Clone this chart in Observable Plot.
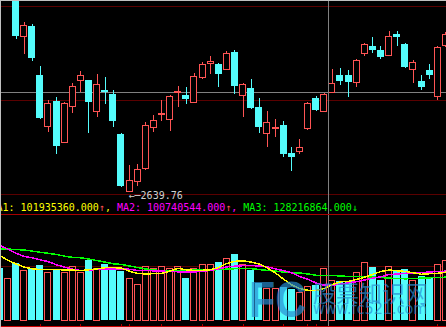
<!DOCTYPE html>
<html>
<head>
<meta charset="utf-8">
<script src="https://cdn.jsdelivr.net/npm/d3@7"></script>
<script src="https://cdn.jsdelivr.net/npm/@observablehq/plot@0.6"></script>
<style>
html, body { margin:0; padding:0; background:#000; }
#chart { position:relative; width:446px; height:327px; background:#000; overflow:hidden; }
#chart svg { position:absolute; left:0; background:transparent; }
#edge { position:absolute; left:0; top:0; width:446px; height:327px; border-top:1px solid #c0c0c0; border-left:1px solid #c0c0c0; box-sizing:border-box; pointer-events:none; }
.wm { position:absolute; color:rgba(40,140,210,0.7); white-space:nowrap; pointer-events:none; line-height:1; transform-origin:0 0; }
</style>
</head>
<body>
<div id="chart"></div>
<script>
// ---- data (one entry per trading day, left to right) ----
const opens  = [3120,3060,3040,2952,2972,2874,2772,2822,2740,2812,2864,2864,2802,2844,2836,2756,2641.5,2662,2688,2770,2796,2786,2840,2834,2820,2870,2898,2896,2886,2920,2834,2848,2810,2758,2768,2774,2718,2722,2768,2828,2802,2840,2874,2874,2860,2918,2932,2924,2914,2956,2936,2886,2862,2884,2832,2934];
const highs  = [3130,3096,3048,2980,2976,2892,2824,2830,2820,2858,2882,2864,2876,2870,2844,2758,2694,2696,2780,2794,2824,2834,2852,2850,2878,2900,2912,2898,2922,2924,2858,2866,2828,2802,2786,2782,2730,2746,2820,2832,2838,2886,2888,2884,2906,2938,2950,2932,2962,2962,2938,2904,2874,2896,2932,2960];
const lows   = [3070,3052,2946,2916,2902,2786,2760,2716,2740,2798,2840,2758,2790,2816,2770,2650,2639.76,2652,2684,2760,2782,2762,2810,2816,2818,2866,2876,2850,2884,2836,2790,2806,2758,2730,2750,2710,2682,2716,2764,2802,2800,2838,2854,2830,2850,2912,2918,2906,2912,2932,2888,2858,2844,2866,2824,2930];
const closes = [3080,3090,2952,2974,2908,2788,2818,2732,2818,2852,2874,2820,2856,2840,2782,2652,2664,2686,2774,2784,2798,2832,2842,2826,2872,2896,2902,2876,2918,2852,2856,2808,2770,2780,2770,2716,2710,2730,2818,2804,2836,2858,2862,2860,2904,2936,2924,2910,2952,2950,2890,2900,2850,2874,2930,2956];
const volumes = [148.2e6,118.8e6,162.5e6,142.5e6,148.2e6,156.8e6,136.8e6,145.4e6,134.0e6,153.9e6,136.8e6,171.0e6,148.2e6,159.6e6,145.4e6,139.7e6,119.7e6,102.6e6,151.1e6,148.2e6,151.1e6,148.2e6,151.1e6,119.7e6,145.4e6,159.6e6,159.6e6,165.3e6,176.7e6,188.1e6,159.6e6,142.5e6,105.5e6,88.4e6,88.4e6,94.0e6,88.4e6,77.0e6,96.9e6,99.8e6,148.2e6,114.0e6,111.2e6,111.2e6,136.8e6,162.5e6,151.1e6,114.0e6,153.9e6,142.5e6,145.4e6,114.0e6,125.4e6,119.7e6,156.8e6,168.2e6];
const ma1 = [185.3e6,171.6e6,161.0e6,152.5e6,147.3e6,145.1e6,145.6e6,145.1e6,144.2e6,143.4e6,142.5e6,144.5e6,147.1e6,150.5e6,151.1e6,149.1e6,140.5e6,134.0e6,132.8e6,133.4e6,134.5e6,141.1e6,148.8e6,144.5e6,142.5e6,143.1e6,144.8e6,151.1e6,162.5e6,168.7e6,170.4e6,166.2e6,161.0e6,149.6e6,135.4e6,117.7e6,101.2e6,91.2e6,86.1e6,86.1e6,91.2e6,101935360,110.3e6,111.7e6,117.1e6,123.7e6,131.7e6,139.7e6,143.9e6,141.6e6,139.7e6,135.9e6,131.7e6,133.4e6,134.5e6,137.7e6];
const ma2 = [213.8e6,203.2e6,191.8e6,182.4e6,178.7e6,173.0e6,167.6e6,158.7e6,151.9e6,146.2e6,141.9e6,143.1e6,146.5e6,147.1e6,147.3e6,147.3e6,145.9e6,142.5e6,142.5e6,141.6e6,140.8e6,139.7e6,138.8e6,137.9e6,138.5e6,139.9e6,143.1e6,147.1e6,153.0e6,154.8e6,156.2e6,156.8e6,155.3e6,153.0e6,147.1e6,141.9e6,135.9e6,125.4e6,117.0e6,107.0e6,100.6e6,100740544,103.5e6,107.4e6,110.6e6,115.4e6,120.6e6,124.5e6,131.1e6,132.2e6,134.5e6,135.4e6,136.8e6,138.2e6,139.7e6,140.5e6];
const ma3 = [204.3e6,203.5e6,202.4e6,200.9e6,197.8e6,194.4e6,191.5e6,188.1e6,183.3e6,179.8e6,178.7e6,175.3e6,170.7e6,166.2e6,161.6e6,159.6e6,155.3e6,151.1e6,146.8e6,143.4e6,142.8e6,142.5e6,142.5e6,142.8e6,143.4e6,143.9e6,144.2e6,144.8e6,146.5e6,147.6e6,148.8e6,147.6e6,145.4e6,142.5e6,140.8e6,137.9e6,135.9e6,135.4e6,132.5e6,128.8e6,128.3e6,128216864,127.1e6,125.4e6,125.4e6,125.4e6,123.7e6,122.3e6,120.8e6,119.7e6,118.8e6,119.7e6,120.8e6,121.7e6,122.6e6,123.4e6];
const maNames = ["MA1", "MA2", "MA3"];
const priceGrid = [3012, 2824, 2636];
const volumeGrid = [154e6];
const tickIndex = [5, 10, 15, 16, 20, 25, 30, 35, 38, 39, 54];
const cursorIndex = 41;
const cursorPrice = 2840;

// ---- styling ----
const RED = "#ff5454", CYAN = "#54fcfc", GRID = "#5a0000", FRAME = "#a80000", CROSS = "#808080";
const maColors = ["#ffff00", "#ff00ff", "#00ff00"];
const W = 446, hw = 0.43;
const crisp = {shapeRendering: "crispEdges"};
const xOpt = {type: "linear", domain: [0.0888, 55.08], range: [0, W], axis: null};

const candles = opens.map((o, i) => ({i, open: o, high: highs[i], low: lows[i], close: closes[i], vol: volumes[i], up: closes[i] >= o}));
const up = candles.filter(d => d.up), down = candles.filter(d => !d.up);
const idx = candles.map(d => d.i);
const lowest = candles.reduce((a, b) => (b.low < a.low ? b : a));

const pricePlot = Plot.plot({
  width: W, height: 201,
  marginTop: 0, marginRight: 0, marginBottom: 0.5, marginLeft: 0,
  style: {background: "transparent"},
  x: xOpt,
  y: {domain: [2639.76, 3024], range: [192.12, 0], axis: null},
  marks: [
    Plot.ruleY(priceGrid, {stroke: GRID, ...crisp}),
    Plot.ruleY([cursorPrice], {stroke: CROSS, ...crisp}),
    Plot.ruleX(down, {x: "i", y1: "low", y2: "high", stroke: CYAN, clip: true, ...crisp}),
    Plot.ruleX(up, {x: "i", y1: "low", y2: "high", stroke: RED, clip: true, ...crisp}),
    Plot.rect(down, {x1: d => d.i - hw, x2: d => d.i + hw, y1: "open", y2: "close", fill: CYAN, clip: true, ...crisp}),
    Plot.rect(up, {x1: d => d.i - hw, x2: d => d.i + hw, y1: "open", y2: "close", fill: "#000", stroke: RED, insetLeft: 0.5, insetRight: 0.5, clip: true, ...crisp}),
    Plot.text([lowest], {x: "i", y: "low", text: d => "←─" + d.low.toFixed(2), textAnchor: "start", dx: -1, dy: 3, fill: "#d0d0d0", fontFamily: "DejaVu Sans Mono", fontSize: 10}),
    Plot.ruleX([cursorIndex], {x: d => d, dx: -3.5, stroke: CROSS, ...crisp}),
    Plot.frame({anchor: "bottom", stroke: FRAME, ...crisp})
  ]
});

// legend segments (values read at the cursor day)
const CW = 6.02, START = -10;
const maSeries = [ma1, ma2, ma3];
const segs = [];
let pos = 0;
maNames.forEach((name, k) => {
  const s = maSeries[k];
  const v = s[cursorIndex], prev = s[cursorIndex - 1];
  const t1 = `${name}: ${v.toFixed(3)}`;
  segs.push({t: t1, c: maColors[k], p: pos}); pos += t1.length;
  const rising = v >= prev;
  segs.push({t: rising ? "↑" : "↓", c: rising ? RED : "#00ff00", p: pos}); pos += 1;
  if (k < maNames.length - 1) { segs.push({t: ",", c: maColors[k], p: pos}); pos += 2; }
});

const volPlot = Plot.plot({
  width: W, height: 127,
  marginTop: 13.5, marginRight: 0, marginBottom: 1.5, marginLeft: 0,
  style: {background: "transparent", overflow: "visible"},
  x: xOpt,
  y: {domain: [0, 302.1e6], range: [120, 14], axis: null},
  marks: [
    Plot.ruleY(volumeGrid, {stroke: GRID, ...crisp}),
    Plot.rect(down, {x1: d => d.i - hw, x2: d => d.i + hw, y1: 0, y2: "vol", fill: CYAN, clip: true, ...crisp}),
    Plot.rect(up, {x1: d => d.i - hw, x2: d => d.i + hw, y1: 0, y2: "vol", fill: "#000", stroke: RED, insetLeft: 0.5, insetRight: 0.5, clip: true, ...crisp}),
    Plot.line(idx, {x: d => d, y: d => ma3[d], stroke: maColors[2], clip: true, ...crisp}),
    Plot.line(idx, {x: d => d, y: d => ma2[d], stroke: maColors[1], clip: true, ...crisp}),
    Plot.line(idx, {x: d => d, y: d => ma1[d], stroke: maColors[0], clip: true, ...crisp}),
    Plot.ruleX(tickIndex, {x: d => d, insetTop: 110, stroke: FRAME, ...crisp}),
    Plot.ruleX([cursorIndex], {x: d => d, dx: -3.5, insetTop: -13.5, insetBottom: -1.5, stroke: CROSS, ...crisp}),
    Plot.frame({anchor: "top", stroke: FRAME, ...crisp}),
    Plot.frame({anchor: "bottom", stroke: "#c80000", ...crisp}),
    ...segs.map(s => Plot.text([s], {frameAnchor: "top-left", lineAnchor: "middle", text: d => d.t, fill: s.c, dx: START + s.p * CW, dy: -6.5, textAnchor: "start", fontFamily: "DejaVu Sans Mono", fontSize: 10}))
  ]
});

const chart = document.getElementById("chart");
pricePlot.style.top = "0px";
volPlot.style.top = "200px";
chart.append(pricePlot, volPlot);

// watermark of the source site
const wm = [
  {t: "FC", css: "left:249px;top:270.5px;font:bold 50px 'Liberation Sans',sans-serif;transform:scaleX(0.86);"},
  {t: "股票知识网", css: "left:313px;top:275px;font:23px 'Noto Sans CJK SC',sans-serif;"},
  {t: "www.fc521.com", css: "left:313px;top:300.3px;font:15px 'DejaVu Sans',sans-serif;transform:scaleX(0.96);"}
];
wm.forEach(w => { const el = document.createElement("div"); el.className = "wm"; el.style.cssText += w.css; el.textContent = w.t; chart.append(el); });
const edge = document.createElement("div"); edge.id = "edge"; chart.append(edge);
</script>
</body>
</html>
